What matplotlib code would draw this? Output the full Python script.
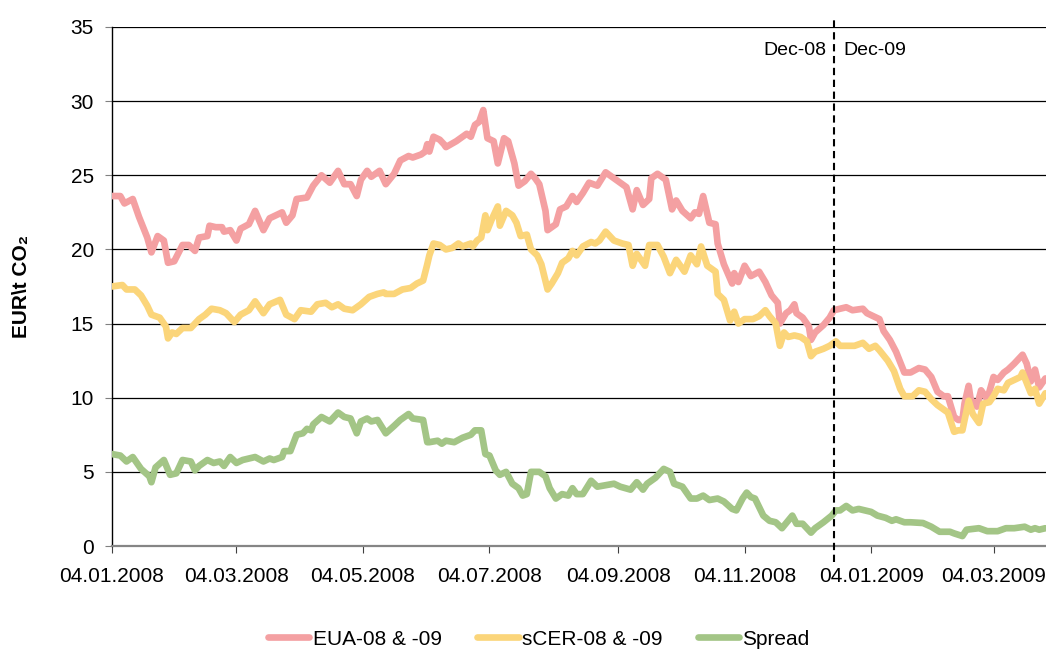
import matplotlib.pyplot as plt
import pandas as pd

# day offsets are counted from start_date
start_date = '2008-01-04'

eua_day = [0, 4, 6, 10, 13, 17, 19, 22, 25, 27, 30, 34, 37, 40, 42, 46, 47, 50, 53, 54, 57, 60, 62, 66, 69, 73, 76,
           82, 84, 87, 89, 94, 97, 101, 105, 109, 112, 115, 118, 120, 123, 125, 129, 132, 136, 139, 143, 145, 149, 151, 152, 153,
           155, 158, 160, 161, 166, 169, 171, 173, 175, 177, 179, 181, 184, 186, 189, 191, 194, 196, 199, 202, 204, 206, 209, 210,
           214, 216, 219, 222, 224, 227, 230,
           234, 238, 241, 244, 248, 251, 253, 256, 259, 260, 263, 267, 270, 272, 275, 279, 281, 283, 285, 288, 291, 292, 295, 299,
           300, 302, 305,
           308, 312, 315, 318, 321, 322, 325, 327, 329, 330, 333, 336, 337, 339, 343, 346, 348, 351, 354, 357, 362, 364, 367, 370,
           372, 375, 378, 382, 385,
           389, 392, 395, 398, 401, 403, 406, 408, 410, 411, 413, 414, 417, 419, 422, 425, 427, 430, 432, 435, 437, 439, 441, 443,
           445, 447, 450]
eua_val = [23.6, 23.6, 23.1, 23.4, 22.2, 20.8, 19.8, 20.9, 20.6, 19.1, 19.2, 20.3, 20.3, 19.9, 20.8, 20.9, 21.6, 21.5, 21.5, 21.2, 21.3, 20.6, 21.4, 21.7, 22.6, 21.3, 22.1,
           22.5, 21.8, 22.3, 23.4, 23.5, 24.3, 25.0, 24.5, 25.3, 24.4, 24.4, 23.6, 24.7, 25.3, 24.9, 25.3, 24.4, 25.1, 26.0, 26.3, 26.2, 26.4, 26.6, 27.1, 26.6,
           27.6, 27.4, 27.1, 26.9, 27.3, 27.6, 27.8, 27.6, 28.4, 28.6, 29.4, 27.5, 27.3, 25.8, 27.5, 27.3, 25.8, 24.3, 24.6, 25.1, 24.8, 24.4, 22.6, 21.3,
           21.7, 22.7, 22.9, 23.6, 23.2, 23.8, 24.5,
           24.3, 25.2, 24.9, 24.6, 24.2, 22.7, 24.0, 23.0, 23.4, 24.8, 25.1, 24.7, 22.7, 23.3, 22.6, 22.1, 22.5, 22.4, 23.6, 21.8, 21.7, 20.4, 19.0, 17.7,
           18.4, 17.8, 18.9,
           18.2, 18.5, 17.8, 16.9, 16.4, 15.0, 15.7, 15.9, 16.3, 15.7, 15.4, 14.8, 13.9, 14.4, 14.9, 15.4, 15.9, 16.0, 16.1, 15.9, 16.0, 15.7, 15.5, 15.3,
           14.5, 13.9, 13.1, 11.7, 11.7,
           12.0, 11.9, 11.4, 10.4, 10.1, 10.1, 8.7, 8.5, 8.5, 9.6, 10.8, 9.9, 9.4, 10.5, 9.9, 11.4, 11.2, 11.7, 11.9, 12.3, 12.6, 12.9, 12.3, 11.1,
           11.9, 10.7, 11.3]

scer_day = [0, 5, 7, 11, 14, 17, 19, 23, 26, 27, 29, 31, 34, 38, 42, 45, 48, 52, 55, 59, 62, 66, 69, 73, 76,
            81, 84, 88, 91, 96, 99, 103, 106, 109, 112, 116, 120, 124, 128, 131, 132, 136, 140, 144, 147, 150, 152, 153,
            155, 158, 161, 164, 167, 169, 173, 174, 176, 178, 180, 181, 183, 186, 187, 190, 193, 195, 197, 200, 202, 205, 207, 210,
            212, 215, 217, 220, 222, 224, 227, 231,
            233, 235, 238, 242, 246, 249, 251, 253, 257, 259, 263, 266, 269, 272, 276, 279, 282, 284, 287, 291, 292, 295, 298, 300,
            302, 305,
            309, 312, 315, 317, 320, 322, 324, 326, 329, 332, 335, 337, 339, 343, 346, 349, 351, 354, 358, 362, 365, 368, 370, 374,
            377, 380, 382,
            386, 389, 392, 395, 398, 400, 403, 406, 408, 410, 413, 415, 418, 420, 423, 425, 427, 430, 432, 435, 438, 439, 441, 443,
            445, 447, 450]
scer_val = [17.5, 17.6, 17.3, 17.3, 16.9, 16.2, 15.6, 15.4, 14.8, 14.0, 14.4, 14.3, 14.7, 14.7, 15.3, 15.6, 16.0, 15.9, 15.7, 15.1, 15.6, 15.9, 16.5, 15.7, 16.3,
            16.6, 15.6, 15.3, 15.9, 15.8, 16.3, 16.4, 16.1, 16.3, 16.0, 15.9, 16.3, 16.8, 17.0, 17.1, 17.0, 17.0, 17.3, 17.4, 17.7, 17.9, 19.0, 19.6,
            20.4, 20.3, 20.0, 20.1, 20.4, 20.2, 20.4, 20.2, 20.6, 20.8, 22.3, 21.3, 22.0, 22.9, 21.6, 22.6, 22.3, 21.8, 20.9, 21.0, 20.0, 19.6, 19.0, 17.3,
            17.7, 18.4, 19.1, 19.4, 19.9, 19.6, 20.2, 20.5,
            20.4, 20.6, 21.2, 20.6, 20.4, 20.3, 18.9, 19.7, 18.9, 20.3, 20.3, 19.5, 18.4, 19.3, 18.5, 19.6, 19.0, 20.2, 18.9, 18.5, 17.0, 16.6, 15.2, 15.8,
            15.0, 15.3,
            15.3, 15.5, 15.9, 15.5, 15.0, 13.5, 14.4, 14.1, 14.2, 14.1, 13.8, 12.8, 13.1, 13.3, 13.5, 13.8, 13.5, 13.5, 13.5, 13.7, 13.3, 13.5, 13.2, 12.5,
            11.8, 10.6, 10.1,
            10.1, 10.5, 10.4, 9.9, 9.5, 9.3, 9.0, 7.7, 7.8, 7.8, 9.8, 8.9, 8.3, 9.6, 9.7, 10.1, 10.6, 10.5, 11.0, 11.2, 11.4, 11.7, 11.0, 10.3,
            10.6, 9.6, 10.3]

spread_day = [0, 4, 7, 10, 14, 18, 19, 21, 25, 28, 31, 34, 38, 40, 42, 46, 49, 52, 54, 57, 60, 63, 69, 73, 76,
              78, 82, 83, 86, 89, 92, 94, 96, 97, 101, 105, 109, 112, 115, 118, 120, 123, 125, 128, 132, 136, 139, 143, 145, 150, 152, 153,
              157, 159, 161, 165, 169, 173, 175, 178, 180, 182, 185, 187, 190, 193, 196, 198, 200, 202, 206, 209, 211, 214, 217, 220,
              222, 224, 227, 231,
              234, 238, 242, 245, 250, 253, 256, 258, 262, 266, 269, 271, 275, 279, 282, 285, 288, 292, 295, 299, 301, 304, 306, 308,
              310, 314, 317, 320, 323, 328, 330, 333, 337, 339, 343, 347, 349, 351, 354, 357, 360, 363, 366, 369, 373, 376, 378, 382,
              385,
              391, 395, 399, 404, 406, 410, 412, 418, 422, 427, 431, 435, 440, 443, 445, 447, 450]
spread_val = [6.2, 6.1, 5.7, 6.0, 5.2, 4.7, 4.3, 5.3, 5.8, 4.8, 4.9, 5.8, 5.7, 5.1, 5.4, 5.8, 5.6, 5.7, 5.4, 6.0, 5.6, 5.8, 6.0, 5.7, 5.9,
              5.8, 6.0, 6.4, 6.4, 7.5, 7.6, 7.9, 7.8, 8.2, 8.7, 8.4, 9.0, 8.7, 8.6, 7.6, 8.4, 8.6, 8.4, 8.5, 7.6, 8.1, 8.5, 8.9, 8.6, 8.5, 7.0, 7.0,
              7.1, 6.9, 7.1, 7.0, 7.3, 7.5, 7.8, 7.8, 6.2, 6.1, 5.1, 4.8, 5.0, 4.2, 3.9, 3.4, 3.5, 5.0, 5.0, 4.7, 3.9, 3.2, 3.5, 3.4,
              3.9, 3.5, 3.5, 4.4,
              4.0, 4.1, 4.2, 4.0, 3.8, 4.3, 3.8, 4.2, 4.6, 5.2, 5.0, 4.2, 4.0, 3.2, 3.2, 3.4, 3.1, 3.2, 3.0, 2.5, 2.4, 3.2, 3.6, 3.3,
              3.2, 2.05, 1.7, 1.6, 1.2, 2.05, 1.5, 1.5, 0.9, 1.2, 1.6, 2.05, 2.4, 2.4, 2.7, 2.4, 2.5, 2.4, 2.3, 2.05, 1.9, 1.7, 1.8, 1.6,
              1.6,
              1.55, 1.3, 0.96, 0.96, 0.85, 0.67, 1.1, 1.2, 1.0, 1.0, 1.2, 1.2, 1.3, 1.1, 1.2, 1.1, 1.2]

series_names = ['EUA-08 & -09', 'sCER-08 & -09', 'Spread']
tick_labels = ['04.01.2008', '04.03.2008', '04.05.2008', '04.07.2008',
               '04.09.2008', '04.11.2008', '04.01.2009', '04.03.2009']
vline_date = '2008-12-17'
vline_labels = ['Dec-08', 'Dec-09']

plt.rcParams['font.family'] = ['Liberation Sans', 'DejaVu Sans']


def to_dates(days):
    return pd.Timestamp(start_date) + pd.to_timedelta(days, unit='D')


fig = plt.figure(figsize=(10.46, 6.55), dpi=100)
ax = fig.add_axes([112 / 1046, 109 / 655, 934 / 1046, 519 / 655])

colors = ['#F4A0A2', '#FBD57A', '#A3C586']
lines = []
for days, vals, name, col in zip([eua_day, scer_day, spread_day],
                                 [eua_val, scer_val, spread_val],
                                 series_names, colors):
    ln, = ax.plot(to_dates(days), vals, color=col, lw=4.8, label=name,
                  solid_capstyle='round', solid_joinstyle='round', zorder=3)
    lines.append(ln)

# vertical separator between the two contract years
vd = pd.Timestamp(vline_date)
ax.axvline(vd, ymin=-0.03, ymax=1.015, clip_on=False, color='black',
           lw=1.5, ls=(0, (3.5, 2.2)), zorder=4)
ax.annotate(vline_labels[0], xy=(vd, 33.4), xytext=(-5, 0), textcoords='offset points',
            ha='right', va='center', fontsize=14)
ax.annotate(vline_labels[1], xy=(vd, 33.4), xytext=(7, 0), textcoords='offset points',
            ha='left', va='center', fontsize=14)

ax.set_ylim(0, 35)
ax.set_yticks(range(0, 36, 5))
ax.set_xlim(pd.Timestamp(start_date), pd.Timestamp(start_date) + pd.Timedelta(days=450.3))
ax.set_xticks([pd.to_datetime(t, format='%d.%m.%Y') for t in tick_labels])
ax.set_xticklabels(tick_labels)

ax.yaxis.grid(True, color='black', lw=0.9)
ax.set_axisbelow(True)
for s in ['top', 'right']:
    ax.spines[s].set_visible(False)
ax.spines['left'].set_color('black')
ax.spines['left'].set_linewidth(1.0)
ax.spines['bottom'].set_color('#858585')
ax.spines['bottom'].set_linewidth(1.6)
ax.tick_params(axis='y', length=5, color='#808080', labelsize=15, pad=8)
ax.tick_params(axis='x', length=5, color='#404040', labelsize=15, pad=10)

fig.text(22 / 1046, 1 - 286 / 655, 'EUR\\t CO₂', rotation=90, ha='center', va='center',
         fontsize=15, fontweight='bold')

fig.legend(handles=lines, loc='center', bbox_to_anchor=(0.515, 0.024), ncol=3,
           frameon=False, fontsize=15, handlelength=2.0, handletextpad=0.15,
           columnspacing=1.7)

fig.savefig('out.png', dpi=100)
